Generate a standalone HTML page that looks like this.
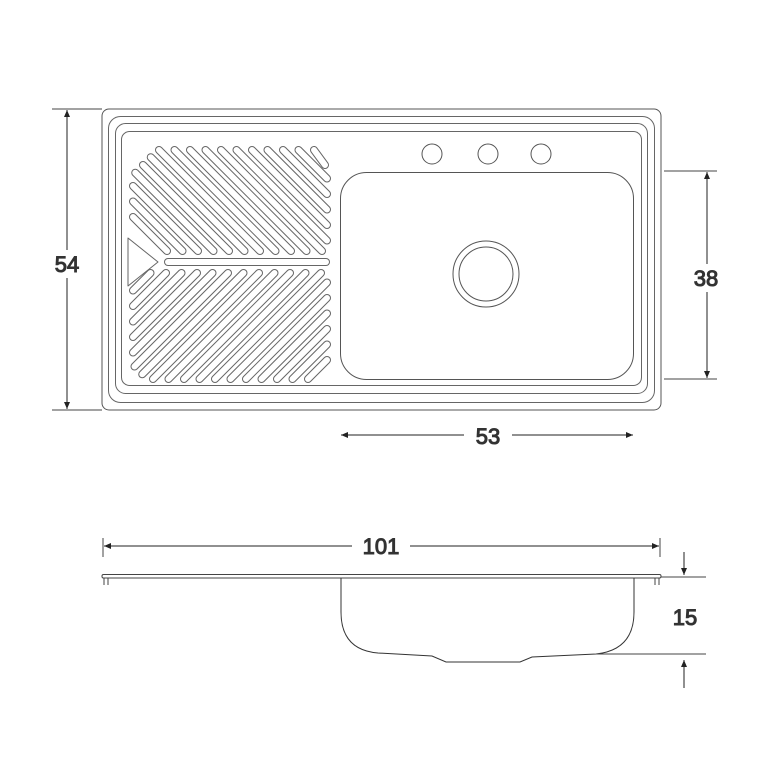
<!DOCTYPE html><html><head><style>body{margin:0;background:#fff}svg{display:block}text{font-family:"Liberation Sans",sans-serif;font-size:22px;fill:#333}</style></head><body>
<svg id="s" width="767" height="767" viewBox="0 0 767 767" fill="none" stroke="#333" stroke-width="1">
<defs><marker id="a" markerWidth="8" markerHeight="8" refX="7" refY="4" orient="auto-start-reverse" markerUnits="userSpaceOnUse"><path d="M0,1 L7,4 L0,7 Z" fill="#222" stroke="none"/></marker></defs>
<rect x="102" y="109" width="559" height="301" rx="7" stroke="#555"/>
<rect x="108.5" y="116.5" width="546" height="286" rx="12" stroke="#666"/>
<rect x="115.5" y="123.5" width="532" height="270" rx="10" stroke="#666"/>
<rect x="121.5" y="131.5" width="520" height="254" rx="8" stroke="#666"/>
<rect x="340.5" y="172.5" width="293" height="207" rx="26" stroke="#555"/>
<circle cx="486" cy="274" r="33" stroke="#555"/><circle cx="486" cy="274" r="27" stroke="#555"/>
<circle cx="432" cy="154" r="10" stroke="#555"/><circle cx="488" cy="154" r="10" stroke="#555"/><circle cx="541" cy="154" r="10" stroke="#555"/>
<g id="slots"></g>
<line x1="168" y1="262" x2="326" y2="262" stroke="#666" stroke-width="8" stroke-linecap="round"/>
<line x1="168" y1="262" x2="326" y2="262" stroke="#fff" stroke-width="6" stroke-linecap="round"/>
<path d="M128,238 L158,262 L128,286 Z" stroke="#666" stroke-linejoin="round"/>
<line x1="52" y1="109" x2="102" y2="109" stroke="#444"/><line x1="52" y1="410" x2="102" y2="410" stroke="#444"/>
<line x1="67" y1="110" x2="67" y2="409" stroke="#222" marker-start="url(#a)" marker-end="url(#a)"/>
<rect x="50" y="250" width="34" height="28" fill="#fff" stroke="none"/><text x="67" y="272" text-anchor="middle">54</text>
<line x1="664" y1="171" x2="717" y2="171" stroke="#444"/><line x1="664" y1="379" x2="717" y2="379" stroke="#444"/>
<line x1="707" y1="172" x2="707" y2="378" stroke="#222" marker-start="url(#a)" marker-end="url(#a)"/>
<rect x="688" y="264" width="38" height="28" fill="#fff" stroke="none"/><text x="706" y="286" text-anchor="middle">38</text>
<line x1="341" y1="435" x2="633" y2="435" stroke="#222" marker-start="url(#a)" marker-end="url(#a)"/>
<rect x="464" y="422" width="48" height="28" fill="#fff" stroke="none"/><text x="488" y="444" text-anchor="middle">53</text>
<line x1="103" y1="538" x2="103" y2="557" stroke="#444"/><line x1="660" y1="538" x2="660" y2="557" stroke="#444"/>
<line x1="104" y1="546" x2="659" y2="546" stroke="#222" marker-start="url(#a)" marker-end="url(#a)"/>
<rect x="352" y="532" width="58" height="28" fill="#fff" stroke="none"/><text x="381" y="554" text-anchor="middle">101</text>
<rect x="102" y="574.5" width="559" height="3.5" rx="1.5" stroke="#444"/>
<path d="M104,578V585M108,578V585M655,578V585M659,578V585" stroke="#444"/>
<path d="M341,578 V612 Q341,650 378,653 L432,656 L446,662 L520,662 L532,657 L596,654 Q634,650 634,612 V578" stroke="#333"/>
<line x1="661" y1="577" x2="706" y2="577" stroke="#444"/><line x1="596" y1="654" x2="706" y2="654" stroke="#444"/>
<line x1="684" y1="552" x2="684" y2="575" stroke="#222" marker-end="url(#a)"/>
<line x1="684" y1="688" x2="684" y2="660" stroke="#222" marker-end="url(#a)"/>
<text x="685" y="625" text-anchor="middle">15</text>
</svg>
<script>
var g=document.getElementById('slots'),out='';
function sl(x1,y1,x2,y2){if(Math.hypot(x2-x1,y2-y1)<10)return;
out+='<line x1="'+x1+'" y1="'+y1+'" x2="'+x2+'" y2="'+y2+'" stroke="#666" stroke-width="8" stroke-linecap="round"/>'+
'<line x1="'+x1+'" y1="'+y1+'" x2="'+x2+'" y2="'+y2+'" stroke="#fff" stroke-width="6" stroke-linecap="round"/>';}
var L=133,R=327,T=150,B=251;
for(var c=-115;c<=178;c+=15.5){var sx,sy,ex,ey;
 if(L-c>=T){sx=L;sy=L-c}else{sy=T;sx=T+c}
 if(R-c<=B){ex=R;ey=R-c}else{ey=B;ex=B+c}
 if(sy>228&&sx<170)continue;
 if(sx+sy<308){var d=(308-sx-sy)/2;sx+=d;sy+=d;}
 if(ex-ey>160){var d=(ex-ey-160)/2;ex-=d;ey+=d;}
 if(ex<sx)continue;
 sl(sx,sy,ex,ey);}
var T2=273,B2=379;
for(var c=408;c<=705;c+=15.5){var ux,uy,lx,ly;
 if(c-T2<=R){uy=T2;ux=c-T2}else{ux=R;uy=c-R}
 if(c-L<=B2){lx=L;ly=c-L}else{ly=B2;lx=c-B2}
 if(lx<165&&ly<290)continue;
 if(ly-lx>232){var d=(ly-lx-232)/2;lx+=d;ly-=d;}
 if(ux+uy>690){var d=(ux+uy-690)/2;ux-=d;uy-=d;}
 if(ux<lx)continue;
 sl(ux,uy,lx,ly);}
g.innerHTML=out;
</script>
</body></html>
